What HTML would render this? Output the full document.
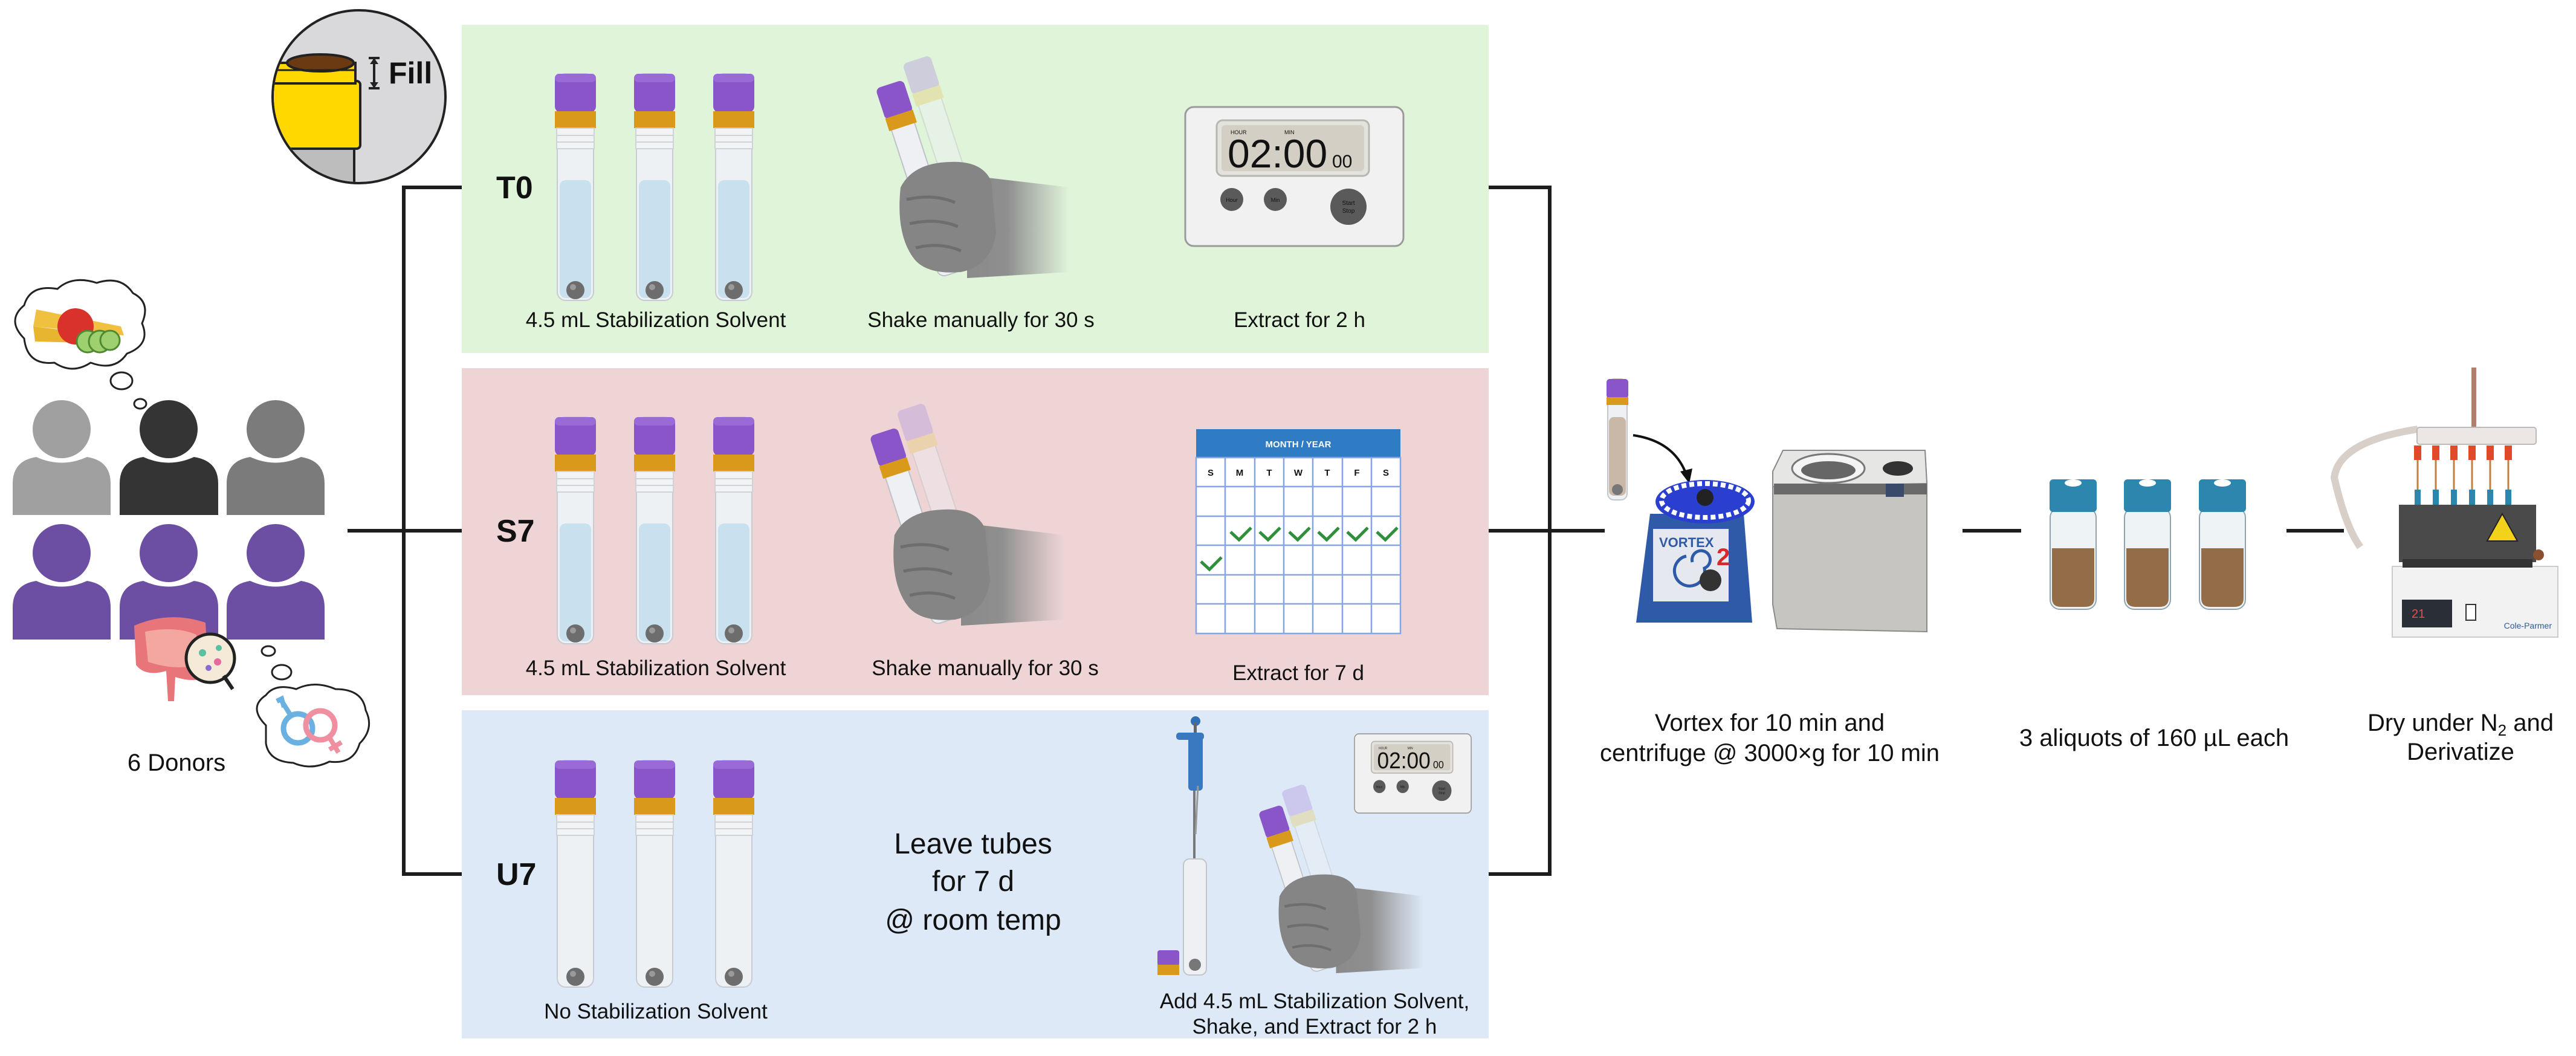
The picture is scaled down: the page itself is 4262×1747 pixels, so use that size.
<!DOCTYPE html>
<html><head><meta charset="utf-8"><style>
html,body{margin:0;padding:0;background:#fff;}
svg{display:block;}
text{font-family:"Liberation Sans",sans-serif;fill:#111;}
</style></head><body>
<svg width="4262" height="1747" viewBox="0 0 4262 1747" xmlns="http://www.w3.org/2000/svg">
<defs>
  <linearGradient id="arm" x1="0" x2="1" y1="0" y2="0">
    <stop offset="0" stop-color="#8a8a8a"/><stop offset="0.4" stop-color="#8f8f8f"/><stop offset="1" stop-color="#9a9a9a" stop-opacity="0"/>
  </linearGradient>
  <g id="tube">
    <rect x="-30" y="0" width="60" height="375" rx="14" fill="#eef1f4" stroke="#c8ccd2" stroke-width="2"/>
    <rect x="-34" y="0" width="68" height="64" rx="10" fill="#8a55c8"/>
    <rect x="-34" y="0" width="68" height="14" rx="7" fill="#9a6ad6"/>
    <rect x="-34" y="62" width="68" height="28" fill="#d99a1c"/>
    <rect x="-31" y="90" width="62" height="34" fill="#f2f3f5" stroke="#cfd2d6" stroke-width="2"/>
    <line x1="-30" y1="102" x2="30" y2="102" stroke="#cfd2d6" stroke-width="2"/>
    <line x1="-30" y1="113" x2="30" y2="113" stroke="#cfd2d6" stroke-width="2"/>
  </g>
  <g id="liq"><rect x="-26" y="176" width="52" height="195" rx="10" fill="#c9e0ee"/></g>
  <g id="ball"><circle cx="0" cy="358" r="15" fill="#6d6d6d"/><circle cx="-4" cy="353" r="5" fill="#9a9a9a"/></g>
  <g id="hand">
    <path d="M130,130 L300,150 L300,290 L130,300 Z" fill="url(#arm)"/>
    <g transform="rotate(-18 60 160)">
      <g opacity="0.45" transform="translate(55,-25)">
        <rect x="40" y="0" width="40" height="280" rx="12" fill="#eef0f3" stroke="#bfc3c8" stroke-width="2"/>
        <rect x="36" y="-30" width="48" height="55" rx="8" fill="#b9a0e0"/>
        <rect x="36" y="22" width="48" height="22" fill="#e8d080"/>
      </g>
      <rect x="40" y="0" width="40" height="300" rx="12" fill="#eef0f3" stroke="#bfc3c8" stroke-width="2"/>
      <rect x="36" y="-30" width="48" height="55" rx="8" fill="#8a55c8"/>
      <rect x="36" y="22" width="48" height="22" fill="#d99a1c"/>
      <circle cx="60" cy="278" r="12" fill="#888"/>
    </g>
    <path d="M20,150 Q40,110 100,108 Q155,105 170,140 L178,225 Q170,280 120,290 Q60,295 40,265 Q12,225 20,150 Z" fill="#858585"/>
    <path d="M30,170 Q75,160 110,175 M35,210 Q80,200 115,215 M45,250 Q85,240 120,255" stroke="#6e6e6e" stroke-width="5" fill="none"/>
  </g>
  <g id="timer">
    <rect x="0" y="0" width="361" height="230" rx="14" fill="#f1f1f1" stroke="#9a9a9a" stroke-width="3"/>
    <rect x="52" y="22" width="252" height="92" rx="10" fill="#e4e2dd" stroke="#b8b6b0" stroke-width="3"/>
    <rect x="60" y="30" width="236" height="76" rx="6" fill="#d4cfc5"/>
    <text x="75" y="45" font-size="9" fill="#444">HOUR</text>
    <text x="164" y="45" font-size="9" fill="#444">MIN</text>
    <text x="70" y="100" font-size="66" fill="#111">02:00</text>
    <text x="243" y="100" font-size="30" fill="#111">00</text>
    <circle cx="77" cy="153" r="19" fill="#5a5a5a"/><text x="77" y="157" font-size="9" fill="#ccc" text-anchor="middle">Hour</text>
    <circle cx="149" cy="153" r="19" fill="#5a5a5a"/><text x="149" y="157" font-size="9" fill="#ccc" text-anchor="middle">Min</text>
    <circle cx="270" cy="165" r="30" fill="#5a5a5a"/><text x="270" y="162" font-size="10" fill="#ccc" text-anchor="middle">Start</text><text x="270" y="175" font-size="10" fill="#ccc" text-anchor="middle">Stop</text>
  </g>
</defs>

<rect x="764" y="41" width="1699" height="543" fill="#e0f4da"/>
<rect x="764" y="609" width="1699" height="541" fill="#eed4d5"/>
<rect x="764" y="1175" width="1699" height="543" fill="#dde9f7"/>

<g stroke="#1d1d1d" stroke-width="6" fill="none">
  <path d="M764,310 H668 V1446 H764"/>
  <path d="M575,878 H764"/>
  <path d="M2463,310 H2564 V1446 H2463"/>
  <path d="M2463,878 H2655"/>
  <path d="M3247,878 H3344"/>
  <path d="M3783,878 H3878"/>
</g>

<g>
  <clipPath id="cc"><circle cx="594" cy="160" r="141"/></clipPath>
  <circle cx="594" cy="160" r="143" fill="#d9d9db" stroke="#222" stroke-width="4"/>
  <g clip-path="url(#cc)">
    <rect x="440" y="240" width="145" height="80" fill="#bdbdbd"/>
    <line x1="586" y1="240" x2="586" y2="310" stroke="#222" stroke-width="4"/>
    <rect x="440" y="134" width="156" height="112" rx="6" fill="#ffd800" stroke="#222" stroke-width="4"/>
    <rect x="440" y="104" width="148" height="34" fill="#ffd800" stroke="#222" stroke-width="4"/>
    <ellipse cx="530" cy="104" rx="55" ry="14" fill="#6b3a12" stroke="#222" stroke-width="4"/>
    <line x1="440" y1="116" x2="588" y2="116" stroke="#222" stroke-width="3"/>
  </g>
  <path d="M610,96 H628 M610,146 H628 M619,98 V144" stroke="#222" stroke-width="4"/>
  <path d="M612,106 L619,96 L626,106 Z M612,136 L619,146 L626,136 Z" fill="#222"/>
  <text x="643" y="138" font-size="50" font-weight="bold">Fill</text>
</g>

<text x="821" y="328" font-size="52" font-weight="bold">T0</text>
<use href="#tube" x="952" y="122"/><use href="#liq" x="952" y="122"/><use href="#ball" x="952" y="122"/>
<use href="#tube" x="1083" y="122"/><use href="#liq" x="1083" y="122"/><use href="#ball" x="1083" y="122"/>
<use href="#tube" x="1214" y="122"/><use href="#liq" x="1214" y="122"/><use href="#ball" x="1214" y="122"/>
<text x="1085" y="541" font-size="35" text-anchor="middle">4.5 mL Stabilization Solvent</text>
<use href="#hand" x="1470" y="160"/>
<text x="1623" y="541" font-size="35" text-anchor="middle">Shake manually for 30 s</text>
<use href="#timer" x="1961" y="177"/>
<text x="2150" y="541" font-size="35" text-anchor="middle">Extract for 2 h</text>

<text x="821" y="896" font-size="52" font-weight="bold">S7</text>
<use href="#tube" x="952" y="690"/><use href="#liq" x="952" y="690"/><use href="#ball" x="952" y="690"/>
<use href="#tube" x="1083" y="690"/><use href="#liq" x="1083" y="690"/><use href="#ball" x="1083" y="690"/>
<use href="#tube" x="1214" y="690"/><use href="#liq" x="1214" y="690"/><use href="#ball" x="1214" y="690"/>
<text x="1085" y="1117" font-size="35" text-anchor="middle">4.5 mL Stabilization Solvent</text>
<use href="#hand" x="1460" y="735"/>
<text x="1630" y="1117" font-size="35" text-anchor="middle">Shake manually for 30 s</text>
<g>
  <rect x="1979" y="757" width="338" height="291" fill="#fff"/>
  <rect x="1979" y="710" width="338" height="47" fill="#2f7bc4"/>
  <text x="2148" y="740" font-size="15" font-weight="bold" text-anchor="middle" style="fill:#fff">MONTH / YEAR</text>
  <g stroke="#86a6e3" stroke-width="2.5" fill="none">
    <rect x="1979" y="757" width="338" height="291"/>
    <path d="M2027,757V1048M2076,757V1048M2124,757V1048M2172,757V1048M2221,757V1048M2269,757V1048"/>
    <path d="M1979,805H2317M1979,854H2317M1979,902H2317M1979,951H2317M1979,999H2317"/>
  </g>
  <g font-size="15" font-weight="bold" text-anchor="middle">
    <text x="2003" y="787">S</text><text x="2051" y="787">M</text><text x="2100" y="787">T</text><text x="2148" y="787">W</text><text x="2196" y="787">T</text><text x="2245" y="787">F</text><text x="2293" y="787">S</text>
  </g>
  <g stroke="#2f8f3a" stroke-width="5" fill="none">
    <path d="M2036,880 l14,13 l20,-20"/><path d="M2084,880 l14,13 l20,-20"/><path d="M2133,880 l14,13 l20,-20"/>
    <path d="M2181,880 l14,13 l20,-20"/><path d="M2229,880 l14,13 l20,-20"/><path d="M2278,880 l14,13 l20,-20"/>
    <path d="M1987,929 l14,13 l20,-20"/>
  </g>
</g>
<text x="2148" y="1125" font-size="35" text-anchor="middle">Extract for 7 d</text>

<text x="821" y="1464" font-size="52" font-weight="bold">U7</text>
<use href="#tube" x="952" y="1258"/><use href="#ball" x="952" y="1258"/>
<use href="#tube" x="1083" y="1258"/><use href="#ball" x="1083" y="1258"/>
<use href="#tube" x="1214" y="1258"/><use href="#ball" x="1214" y="1258"/>
<text x="1085" y="1685" font-size="35" text-anchor="middle">No Stabilization Solvent</text>
<text x="1610" y="1412" font-size="48" text-anchor="middle">Leave tubes</text>
<text x="1610" y="1474" font-size="48" text-anchor="middle">for 7 d</text>
<text x="1610" y="1538" font-size="48" text-anchor="middle">@ room temp</text>
<g>
  <circle cx="1978" cy="1193" r="8" fill="#2f6fb5"/>
  <rect x="1975" y="1195" width="5" height="20" fill="#666"/>
  <rect x="1946" y="1212" width="46" height="12" rx="5" fill="#3a78c0"/>
  <rect x="1966" y="1218" width="24" height="90" rx="6" fill="#3a78c0"/>
  <line x1="1976" y1="1308" x2="1976" y2="1420" stroke="#777" stroke-width="4"/>
  <line x1="1982" y1="1300" x2="1978" y2="1380" stroke="#999" stroke-width="3"/>
  <rect x="1958" y="1421" width="38" height="192" rx="10" fill="#eef0f3" stroke="#c2c6cb" stroke-width="2"/>
  <circle cx="1977" cy="1596" r="10" fill="#777"/>
  <rect x="1915" y="1572" width="36" height="26" rx="4" fill="#8a55c8"/>
  <rect x="1915" y="1596" width="36" height="17" fill="#d99a1c"/>
</g>
<g transform="translate(2241,1214) scale(0.535,0.57)"><use href="#timer"/></g>
<g transform="translate(2100,1355) scale(0.85)"><use href="#hand"/></g>
<text x="2175" y="1668" font-size="35" text-anchor="middle">Add 4.5 mL Stabilization Solvent,</text>
<text x="2175" y="1710" font-size="35" text-anchor="middle">Shake, and Extract for 2 h</text>

<g>
  <ellipse cx="102" cy="710" rx="48" ry="48" fill="#a0a0a0"/>
  <path d="M21,852 V800 Q21,762 60,756 Q102,775 144,756 Q183,762 183,800 V852 Z" fill="#a0a0a0"/>
  <ellipse cx="279" cy="710" rx="48" ry="48" fill="#343434"/>
  <path d="M198,852 V800 Q198,762 237,756 Q279,775 321,756 Q361,762 361,800 V852 Z" fill="#343434"/>
  <ellipse cx="456" cy="710" rx="48" ry="48" fill="#7b7b7b"/>
  <path d="M375,852 V800 Q375,762 414,756 Q456,775 498,756 Q537,762 537,800 V852 Z" fill="#7b7b7b"/>
  <ellipse cx="102" cy="915" rx="48" ry="48" fill="#6c4fa3"/>
  <path d="M21,1058 V1005 Q21,967 60,961 Q102,980 144,961 Q183,967 183,1005 V1058 Z" fill="#6c4fa3"/>
  <ellipse cx="279" cy="915" rx="48" ry="48" fill="#6c4fa3"/>
  <path d="M198,1058 V1005 Q198,967 237,961 Q279,980 321,961 Q361,967 361,1005 V1058 Z" fill="#6c4fa3"/>
  <ellipse cx="456" cy="915" rx="48" ry="48" fill="#6c4fa3"/>
  <path d="M375,1058 V1005 Q375,967 414,961 Q456,980 498,961 Q537,967 537,1005 V1058 Z" fill="#6c4fa3"/>
</g>
<g stroke="#222" stroke-width="3" fill="#fff">
  <path d="M40,560 Q10,530 40,505 Q50,470 95,478 Q120,455 160,468 Q200,455 220,485 Q250,500 235,535 Q250,570 210,585 Q190,615 150,600 Q120,620 90,600 Q45,605 40,560 Z"/>
  <ellipse cx="201" cy="630" rx="18" ry="14"/>
  <ellipse cx="232" cy="668" rx="10" ry="8"/>
</g>
<path d="M60,512 L200,540 L205,555 L55,540 Z" fill="#f0c040"/>
<path d="M55,540 L180,555 L175,568 L58,565 Z" fill="#e8b530"/>
<circle cx="125" cy="540" r="30" fill="#d8322a"/>
<circle cx="145" cy="565" r="18" fill="#9fd070" stroke="#4f8a30" stroke-width="3"/>
<circle cx="165" cy="565" r="18" fill="#9fd070" stroke="#4f8a30" stroke-width="3"/>
<circle cx="182" cy="563" r="16" fill="#9fd070" stroke="#4f8a30" stroke-width="3"/>
<path d="M222,1035 Q280,1010 340,1030 L345,1120 Q320,1130 290,1120 L288,1160 L278,1160 L275,1110 Q240,1120 225,1100 Z" fill="#e8757a"/>
<path d="M240,1045 Q290,1035 325,1050 L325,1100 Q290,1110 245,1095 Z" fill="#f3a7a0"/>
<circle cx="348" cy="1089" r="40" fill="#f5ead8" stroke="#222" stroke-width="5"/>
<path d="M370,1118 L385,1140 L375,1125 Z" stroke="#222" stroke-width="6"/>
<circle cx="335" cy="1080" r="6" fill="#5bc0a0"/><circle cx="360" cy="1095" r="6" fill="#e86aa0"/><circle cx="345" cy="1105" r="5" fill="#8a6ad0"/><circle cx="362" cy="1072" r="5" fill="#5bc0a0"/>
<g stroke="#222" stroke-width="3" fill="#fff">
  <path d="M440,1200 Q410,1170 440,1150 Q455,1130 490,1140 Q520,1125 555,1140 Q600,1140 605,1175 Q620,1205 595,1230 Q585,1265 545,1260 Q515,1275 485,1262 Q445,1260 440,1230 Z"/>
  <ellipse cx="444" cy="1077" rx="11" ry="8"/>
  <ellipse cx="466" cy="1112" rx="16" ry="12"/>
</g>
<circle cx="493" cy="1205" r="24" fill="none" stroke="#6ab0e0" stroke-width="9"/>
<path d="M480,1182 L465,1158 M458,1160 L466,1156 L470,1170" stroke="#6ab0e0" stroke-width="8" fill="none"/>
<circle cx="530" cy="1200" r="24" fill="none" stroke="#ef8fa0" stroke-width="9"/>
<path d="M545,1220 L560,1245 M545,1240 L565,1228" stroke="#ef8fa0" stroke-width="8"/>
<text x="292" y="1275" font-size="40" text-anchor="middle">6 Donors</text>

<rect x="2660" y="627" width="32" height="200" rx="10" fill="#eef0f3" stroke="#c2c6cb" stroke-width="2"/>
<rect x="2662" y="690" width="28" height="130" rx="8" fill="#c9b8a8"/>
<rect x="2658" y="627" width="36" height="32" rx="5" fill="#8a55c8"/>
<rect x="2658" y="657" width="36" height="13" fill="#d99a1c"/>
<circle cx="2676" cy="810" r="9" fill="#777"/>
<path d="M2702,720 Q2770,730 2790,785" stroke="#111" stroke-width="4" fill="none"/>
<path d="M2780,780 L2795,800 L2800,775 Z" fill="#111"/>
<path d="M2730,850 L2885,850 L2899,1030 L2707,1030 Z" fill="#2f5aa8"/>
<rect x="2735" y="875" width="125" height="120" fill="#e6e8f0"/>
<path d="M2790,920 a25,25 0 1,0 30,20 a15,15 0 1,0 -20,-10" stroke="#2f5aa8" stroke-width="5" fill="none"/>
<text x="2745" y="905" font-size="22" font-weight="bold" style="fill:#2f5aa8">VORTEX</text>
<text x="2840" y="935" font-size="40" font-weight="bold" style="fill:#d8282a">2</text>
<circle cx="2830" cy="960" r="18" fill="#333"/>
<ellipse cx="2821" cy="830" rx="82" ry="36" fill="#2a3fd0"/>
<ellipse cx="2821" cy="828" rx="72" ry="28" fill="none" stroke="#fff" stroke-width="8" stroke-dasharray="8 5"/>
<circle cx="2821" cy="823" r="14" fill="#222"/>
<path d="M2933,780 L2950,745 L3185,745 L3188,800 L3188,1045 L2940,1040 L2933,1000 Z" fill="#c6c5c2" stroke="#8a8a88" stroke-width="2"/>
<path d="M2933,780 L2950,745 L3185,745 L3188,800 L2933,805 Z" fill="#e6e6e4" stroke="#8a8a88" stroke-width="2"/>
<rect x="2935" y="800" width="253" height="18" fill="#6a6a6a"/>
<ellipse cx="3025" cy="775" rx="60" ry="24" fill="#f4f4f4" stroke="#777" stroke-width="3"/>
<ellipse cx="3025" cy="778" rx="45" ry="15" fill="#666"/>
<ellipse cx="3140" cy="775" rx="25" ry="12" fill="#333"/>
<rect x="3120" y="800" width="30" height="22" fill="#3a4a6a"/>
<text x="2928" y="1209" font-size="40" text-anchor="middle">Vortex for 10 min and</text>
<text x="2928" y="1259" font-size="40" text-anchor="middle">centrifuge @ 3000×g for 10 min</text>
<g id="vial">
  <rect x="3392" y="840" width="76" height="168" rx="16" fill="#eef3f6" stroke="#8fa3ae" stroke-width="2"/>
  <path d="M3395,907 H3465 V990 Q3465,1004 3450,1004 H3410 Q3395,1004 3395,990 Z" fill="#936c48"/>
  <rect x="3391" y="793" width="78" height="54" rx="6" fill="#2d86ad"/>
  <ellipse cx="3430" cy="799" rx="14" ry="6" fill="#fff"/>
</g>
<use href="#vial" x="123"/>
<use href="#vial" x="247"/>
<text x="3564" y="1234" font-size="40" text-anchor="middle">3 aliquots of 160 µL each</text>
<rect x="4089" y="608" width="8" height="100" fill="#b0806a"/>
<path d="M4000,710 Q3870,730 3862,790 Q3880,870 3905,905" stroke="#d8d0c8" stroke-width="12" fill="none"/>
<rect x="3958" y="937" width="274" height="117" fill="#f2f2f2" stroke="#ccc" stroke-width="2"/>
<rect x="3974" y="992" width="83" height="46" fill="#2a2e36"/>
<text x="3990" y="1022" font-size="20" style="fill:#e05050">21</text>
<rect x="4080" y="1000" width="16" height="26" fill="#fff" stroke="#333" stroke-width="2"/>
<text x="4222" y="1040" font-size="14" text-anchor="end" style="fill:#2a5aa0">Cole-Parmer</text>
<path d="M3969,835 L4196,835 L4196,930 L3969,930 Z" fill="#4a4a4a"/>
<rect x="3975" y="925" width="215" height="14" fill="#333"/>
<path d="M4140,850 L4165,895 L4115,895 Z" fill="#f2d21a" stroke="#222" stroke-width="2"/>
<g fill="#2d86ad"><rect x="3995" y="810" width="10" height="25"/><rect x="4025" y="810" width="10" height="25"/><rect x="4055" y="810" width="10" height="25"/><rect x="4085" y="810" width="10" height="25"/><rect x="4115" y="810" width="10" height="25"/><rect x="4145" y="810" width="10" height="25"/></g>
<g stroke="#c08040" stroke-width="3"><path d="M4000,760V810M4030,760V810M4060,760V810M4090,760V810M4120,760V810M4150,760V810"/></g>
<g fill="#e04a2a"><rect x="3994" y="737" width="12" height="24"/><rect x="4024" y="737" width="12" height="24"/><rect x="4054" y="737" width="12" height="24"/><rect x="4084" y="737" width="12" height="24"/><rect x="4114" y="737" width="12" height="24"/><rect x="4144" y="737" width="12" height="24"/></g>
<rect x="3999" y="707" width="197" height="28" rx="4" fill="#ece6e4" stroke="#bbb" stroke-width="2"/>
<circle cx="4200" cy="918" r="9" fill="#8a5030"/>
<text x="4071" y="1209" font-size="40" text-anchor="middle">Dry under N<tspan font-size="26" dy="8">2</tspan><tspan dy="-8"> and</tspan></text>
<text x="4071" y="1257" font-size="40" text-anchor="middle">Derivatize</text>
</svg>
</body></html>
